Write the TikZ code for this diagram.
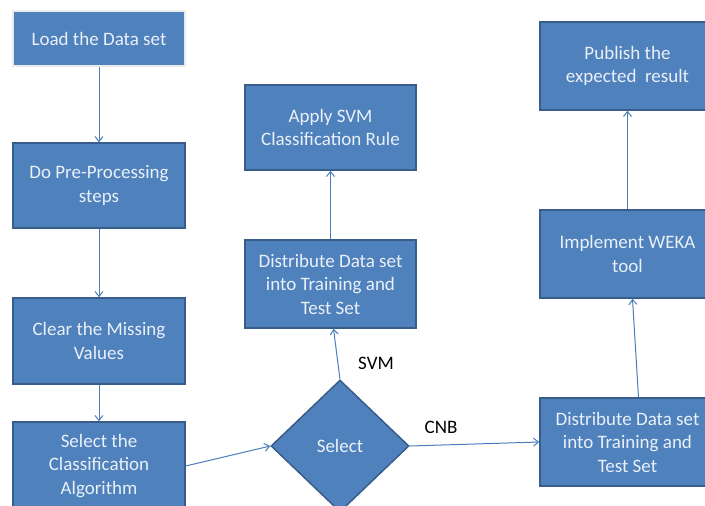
\documentclass[tikz,border=0pt]{standalone}
\usepackage{fontspec}
\setmainfont{Carlito}
\usetikzlibrary{shapes.geometric,arrows.meta}

\definecolor{boxfill}{HTML}{4F81BD}
\definecolor{boxline}{HTML}{385D8A}
\definecolor{boxtext}{HTML}{EAF0F8}
\definecolor{flowline}{HTML}{4A7EBB}

\begin{document}
\begin{tikzpicture}[x=1pt,y=-1pt]
        \tikzstyle{blk} = [draw, flowline, line width=1pt, -{Straight Barb[length=5pt,width=8pt]}]
        \tikzstyle{stepbox} = [draw=boxline, line width=1.5pt, fill=boxfill, text=boxtext,
            align=center, inner sep=0pt, minimum width=172pt,
            font=\fontsize{19}{23.5}\selectfont]
        \tikzstyle{choice} = [diamond, draw=boxline, line width=1.5pt, fill=boxfill, text=boxtext,
            inner sep=0pt, minimum width=138pt, minimum height=132pt,
            font=\fontsize{19}{23.5}\selectfont]
        \tikzstyle{lbl} = [font=\fontsize{19}{23.5}\selectfont]

        \useasboundingbox (0,0) rectangle (705,506);

        \node[stepbox, draw=black!8, minimum height=55pt] (load data) at (99, 38.5) {Load the Data set};
        \node[stepbox, minimum height=85pt] (preprocess) at (99, 185.5) {Do Pre-Processing\\steps};
        \node[stepbox, minimum height=86pt] (clear missing) at (99, 341) {Clear the Missing\\Values};
        \node[stepbox, minimum height=88pt] (select algorithm) at (99, 466) {Select the\\Classification\\Algorithm};
        \node[choice] (select) at (340, 446) {Select};
        \node[stepbox, minimum width=171pt, minimum height=88pt] (distribute svm) at (330.5, 284) {Distribute Data set\\into Training and\\Test Set};
        \node[stepbox, minimum width=171pt, minimum height=85pt] (apply svm) at (330.5, 127.5) {Apply SVM\\Classification Rule};
        \node[stepbox, minimum width=175pt, minimum height=88pt] (distribute cnb) at (627.5, 442) {Distribute Data set\\into Training and\\Test Set};
        \node[stepbox, minimum width=175pt, minimum height=88pt] (weka) at (627.5, 254) {Implement WEKA\\tool};
        \node[stepbox, minimum width=175pt, minimum height=88pt] (publish) at (627.5, 66) {Publish the\\expected\ \ result};

        \node[lbl] (svm label) at (376, 363) {SVM};
        \node[lbl] (cnb label) at (441, 427) {CNB};

        \path[blk] (load data) to (preprocess);
        \path[blk] (preprocess) to (clear missing);
        \path[blk] (clear missing) to (select algorithm);
        \path[blk] (select algorithm.east) to (select.west);
        \path[blk] (select.north) to ([xshift=3pt]distribute svm.south);
        \path[blk] (distribute svm) to (apply svm);
        \path[blk] (select.east) to (distribute cnb.west);
        \path[blk] ([xshift=11pt]distribute cnb.north) to ([xshift=5pt]weka.south);
        \path[blk] (weka) to (publish);
    \end{tikzpicture}
\end{document}
